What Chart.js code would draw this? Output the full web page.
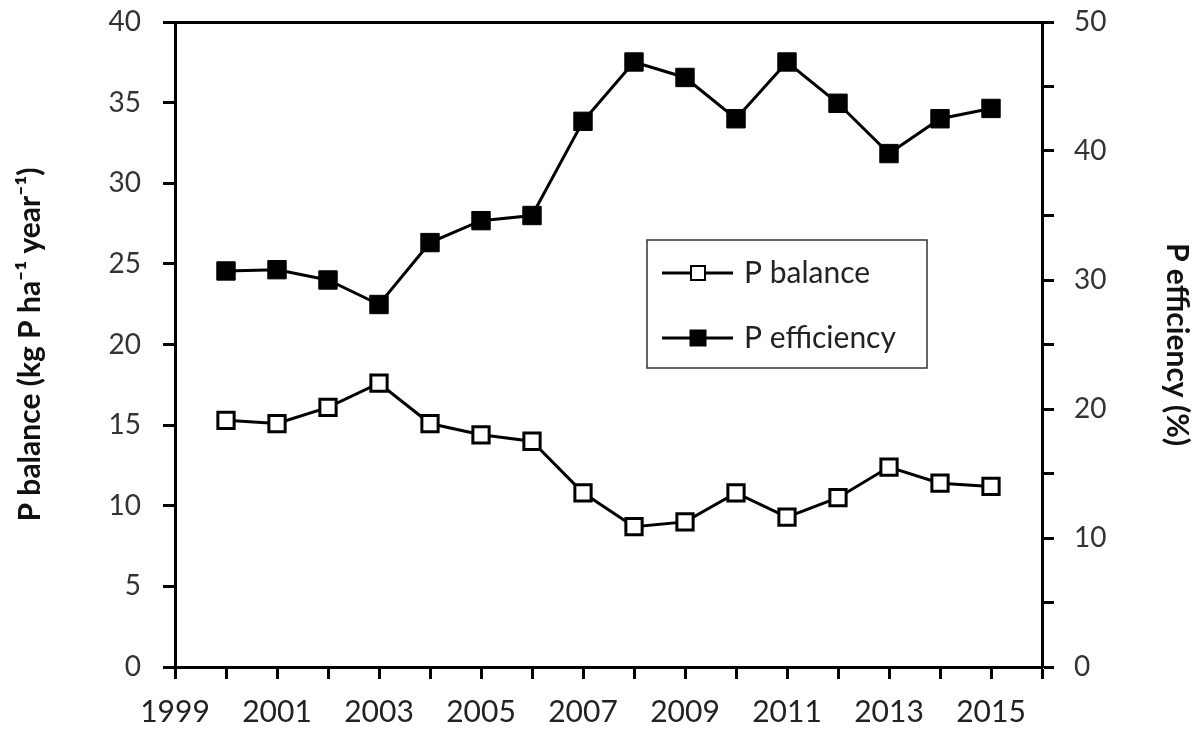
<!DOCTYPE html>
<html>
<head>
<meta charset="utf-8">
<script src="https://cdn.jsdelivr.net/npm/chart.js@4.4.1/dist/chart.umd.min.js"></script>
<style>
html, body { margin: 0; padding: 0; background: #fff; }
</style>
</head>
<body>
<canvas id="pChart" width="1195" height="733"></canvas>
<script>
// years on the x axis
const years = [2000, 2001, 2002, 2003, 2004, 2005, 2006, 2007, 2008, 2009, 2010, 2011, 2012, 2013, 2014, 2015];

// P balance, kg P / ha / year (left axis)
const pBalance = [15.3, 15.1, 16.1, 17.6, 15.1, 14.4, 14.0, 10.8, 8.7, 9.0, 10.8, 9.3, 10.5, 12.4, 11.4, 11.2];

// P efficiency, % (right axis)
const pEfficiency = [30.7, 30.8, 30.0, 28.1, 32.9, 34.6, 35.0, 42.3, 46.9, 45.7, 42.5, 46.9, 43.7, 39.8, 42.5, 43.3];

const seriesNames = ['P balance', 'P efficiency'];
const leftTitle = 'P balance (kg P ha\u207B\u00B9 year\u207B\u00B9)';
const rightTitle = 'P efficiency (%)';

Chart.defaults.font.family = 'Lato, "Open Sans", sans-serif';
Chart.defaults.color = '#222';

// legend drawn as a box inside the plot, like the original
const boxLegend = {
    id: 'boxLegend',
    afterDraw(chart) {
        const ctx = chart.ctx;
        const bx = 647, by = 240, bw = 280, bh = 128;
        ctx.save();
        ctx.fillStyle = '#fff';
        ctx.fillRect(bx, by, bw, bh);
        ctx.strokeStyle = '#333';
        ctx.lineWidth = 1.5;
        ctx.strokeRect(bx, by, bw, bh);

        const rows = [273, 338];
        chart.data.datasets.forEach((ds, i) => {
            const y = rows[i];
            ctx.strokeStyle = '#000';
            ctx.lineWidth = 3;
            ctx.beginPath();
            ctx.moveTo(662, y);
            ctx.lineTo(733, y);
            ctx.stroke();
            // marker
            const s = i === 0 ? 14 : 16;
            ctx.fillStyle = ds.pointBackgroundColor;
            ctx.fillRect(698 - s / 2, y - s / 2, s, s);
            ctx.lineWidth = i === 0 ? 2 : 1;
            ctx.strokeRect(698 - s / 2, y - s / 2, s, s);
            // label
            ctx.fillStyle = '#222';
            ctx.font = '30px Lato, "Open Sans", sans-serif';
            ctx.textBaseline = 'middle';
            ctx.textAlign = 'left';
            ctx.fillText(ds.label, 744, y);
        });
        ctx.restore();
    }
};

// fixed box sizes so the plot area lands where the original has it
function fixY(width) {
    return (s) => {
        s.width = width;
        s.paddingTop = 0;
        s.paddingBottom = 0;
    };
}

const ctx = document.getElementById('pChart').getContext('2d');

const pChart = new Chart(ctx, {
    type: 'line',
    data: {
        datasets: [{
            label: seriesNames[0],
            data: years.map((yr, i) => ({ x: yr, y: pBalance[i] })),
            yAxisID: 'y',
            xAxisID: 'x',
            borderColor: '#000',
            borderWidth: 3,
            pointStyle: 'rect',
            pointRadius: 11.5,
            pointBackgroundColor: '#fff',
            pointBorderColor: '#000',
            pointBorderWidth: 3,
            tension: 0,
            fill: false
        }, {
            label: seriesNames[1],
            data: years.map((yr, i) => ({ x: yr, y: pEfficiency[i] })),
            yAxisID: 'y2',
            xAxisID: 'x',
            borderColor: '#000',
            borderWidth: 3,
            pointStyle: 'rect',
            pointRadius: 13,
            pointBackgroundColor: '#000',
            pointBorderColor: '#000',
            pointBorderWidth: 1,
            tension: 0,
            fill: false
        }]
    },
    options: {
        responsive: false,
        animation: false,
        layout: {
            padding: { top: 22, left: 0, right: 0, bottom: 0 }
        },
        plugins: {
            legend: { display: false },
            tooltip: { enabled: false }
        },
        scales: {
            x: {
                type: 'linear',
                position: 'bottom',
                min: 1999,
                max: 2016,
                afterFit: (s) => {
                    s.height = 66;
                    s.paddingLeft = 0;
                    s.paddingRight = 0;
                },
                ticks: {
                    stepSize: 1,
                    autoSkip: false,
                    maxRotation: 0,
                    padding: 15,
                    color: '#222',
                    font: { size: 30 },
                    callback: (v) => (v % 2 === 1 ? String(v) : '')
                },
                grid: {
                    drawOnChartArea: false,
                    tickLength: 12,
                    tickWidth: 3,
                    color: '#000'
                },
                border: { color: '#000', width: 3 }
            },
            xTop: {
                type: 'linear',
                position: 'top',
                min: 1999,
                max: 2016,
                afterFit: (s) => {
                    s.height = 0;
                    s.paddingLeft = 0;
                    s.paddingRight = 0;
                },
                ticks: { display: false },
                grid: { display: false },
                border: { color: '#000', width: 3 }
            },
            y: {
                position: 'left',
                min: 0,
                max: 40,
                afterFit: fixY(175),
                ticks: {
                    stepSize: 5,
                    padding: 22,
                    color: '#333',
                    font: { size: 28 }
                },
                grid: {
                    drawOnChartArea: false,
                    tickLength: 12,
                    tickWidth: 3,
                    color: '#000'
                },
                border: { color: '#000', width: 3 },
                title: {
                    display: true,
                    text: leftTitle,
                    color: '#111',
                    font: { size: 30, weight: 'bold' },
                    padding: { top: 12, bottom: 0 }
                }
            },
            y2: {
                position: 'right',
                min: 0,
                max: 50,
                afterFit: fixY(153),
                ticks: {
                    stepSize: 5,
                    padding: 20,
                    color: '#333',
                    font: { size: 28 },
                    callback: (v) => (v % 10 === 0 ? String(v) : '')
                },
                grid: {
                    drawOnChartArea: false,
                    tickLength: 12,
                    tickWidth: 3,
                    color: '#000'
                },
                border: { color: '#000', width: 3 },
                title: {
                    display: true,
                    text: rightTitle,
                    color: '#111',
                    font: { size: 30, weight: 'bold' },
                    padding: { top: 0, bottom: 0 }
                }
            }
        }
    },
    plugins: [boxLegend]
});
</script>
</body>
</html>
